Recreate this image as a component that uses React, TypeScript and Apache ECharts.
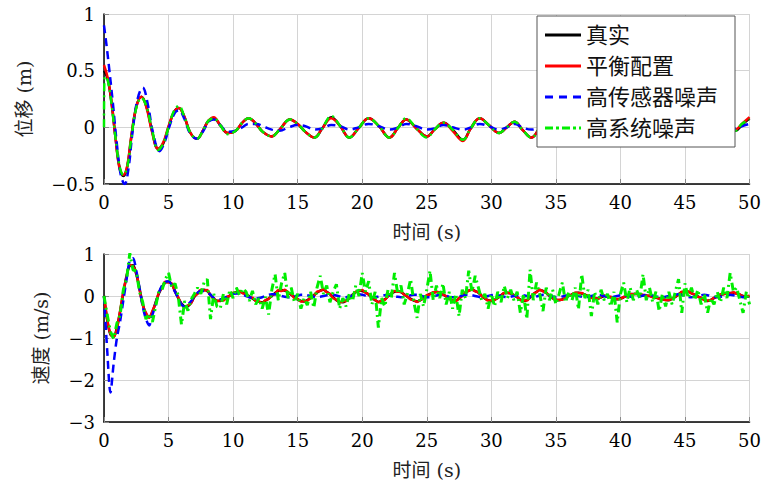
import React, { useEffect, useRef } from "react";
import * as echarts from "echarts";

// ---------- labels ----------
const seriesNames = ["真实", "平衡配置", "高传感器噪声", "高系统噪声"];
const xTicks = [0, 5, 10, 15, 20, 25, 30, 35, 40, 45, 50];
const dispTicks = [-0.5, 0, 0.5, 1];
const velTicks = [-3, -2, -1, 0, 1];
const xName = "时间 (s)";
const dispName = "位移 (m)";
const velName = "速度 (m/s)";

// ---------- displacement [t, x] ----------
const trueDisp = [
  [0, 0.5], [0.3, 0.42], [0.6, 0.2], [0.9, -0.1], [1.2, -0.35], [1.5, -0.43], [1.8, -0.35], [2.1, -0.1],
  [2.5, 0.18], [2.9, 0.27], [3.3, 0.18], [3.7, -0.02], [4.2, -0.19], [4.6, -0.14], [5.0, 0.0], [5.4, 0.13],
  [5.8, 0.17], [6.2, 0.1], [6.7, -0.05], [7.2, -0.1], [7.7, -0.02], [8.1, 0.06], [8.5, 0.08], [9.0, 0.02],
  [9.6, -0.05], [10.2, -0.03], [10.7, 0.04], [11.2, 0.08], [11.7, 0.04], [12.3, -0.04], [13.0, -0.08],
  [13.6, -0.02], [14.4, 0.07], [15.0, 0.03], [15.6, -0.04], [16.3, -0.09], [16.9, -0.01], [17.6, 0.09],
  [18.3, 0.01], [19.0, -0.09], [19.7, -0.01], [20.5, 0.08], [21.3, 0.01], [22.1, -0.09], [22.8, 0.0],
  [23.4, 0.07], [24.2, -0.01], [25.0, -0.08], [25.6, -0.02], [26.3, 0.04], [27.0, -0.02], [27.8, -0.11],
  [28.4, -0.01], [29.1, 0.08], [29.8, 0.02], [30.6, -0.05], [31.2, 0.0], [31.8, 0.05], [32.4, -0.02],
  [33.1, -0.09], [33.8, 0.0], [34.6, 0.07], [35.4, 0.0], [36.2, -0.07], [37.0, 0.0], [37.8, 0.06],
  [38.6, -0.01], [39.4, -0.07], [40.2, 0.0], [41.0, 0.06], [41.8, -0.01], [42.6, -0.07], [43.4, 0.0],
  [44.2, 0.06], [45.0, 0.0], [45.8, -0.06], [46.6, 0.0], [47.4, 0.05], [48.2, -0.01], [48.9, -0.03],
  [49.4, 0.02], [50, 0.08],
];
const balancedDisp = [
  [0, 0.55], [0.3, 0.43], [0.6, 0.21], [0.9, -0.1], [1.2, -0.36], [1.5, -0.42], [1.8, -0.34], [2.1, -0.09],
  [2.5, 0.18], [2.9, 0.27], [3.3, 0.17], [3.7, -0.03], [4.2, -0.19], [4.6, -0.13], [5.0, 0.01], [5.4, 0.13],
  [5.8, 0.17], [6.2, 0.1], [6.7, -0.05], [7.2, -0.1], [7.7, -0.02], [8.1, 0.06], [8.5, 0.09], [9.0, 0.02],
  [9.6, -0.05], [10.2, -0.03], [10.7, 0.04], [11.2, 0.08], [11.7, 0.04], [12.3, -0.04], [13.0, -0.08],
  [13.6, -0.02], [14.4, 0.07], [15.0, 0.03], [15.6, -0.04], [16.3, -0.09], [16.9, -0.01], [17.6, 0.08],
  [18.3, 0.01], [19.0, -0.09], [19.7, -0.01], [20.5, 0.08], [21.3, 0.01], [22.1, -0.09], [22.8, 0.0],
  [23.4, 0.07], [24.2, -0.01], [25.0, -0.08], [25.6, -0.02], [26.3, 0.04], [27.0, -0.03], [27.8, -0.12],
  [28.4, -0.01], [29.1, 0.08], [29.8, 0.02], [30.6, -0.05], [31.2, 0.0], [31.8, 0.05], [32.4, -0.02],
  [33.1, -0.09], [33.8, 0.0], [34.6, 0.07], [35.4, 0.0], [36.2, -0.07], [37.0, 0.0], [37.8, 0.06],
  [38.6, -0.01], [39.4, -0.07], [40.2, 0.0], [41.0, 0.06], [41.8, -0.01], [42.6, -0.07], [43.4, 0.0],
  [44.2, 0.06], [45.0, 0.0], [45.8, -0.06], [46.6, 0.0], [47.4, 0.05], [48.2, -0.01], [48.9, -0.02],
  [49.4, 0.03], [50, 0.09],
];
const sensorDisp = [
  [0, 0.9], [0.2, 0.72], [0.4, 0.52], [0.7, 0.2], [1.0, -0.15], [1.3, -0.42], [1.6, -0.5], [1.9, -0.36],
  [2.2, -0.05], [2.6, 0.25], [3.0, 0.35], [3.4, 0.2], [3.8, -0.05], [4.3, -0.21], [4.7, -0.13], [5.1, 0.02],
  [5.5, 0.13], [5.8, 0.15], [6.2, 0.08], [6.7, -0.06], [7.2, -0.1], [7.7, -0.03], [8.1, 0.05], [8.5, 0.07],
  [9.0, 0.02], [9.6, -0.04], [10.2, -0.03], [10.7, 0.0], [11.2, 0.03], [11.8, 0.03], [12.3, 0.01],
  [13.0, -0.02], [13.6, -0.03], [14.3, 0.0], [15.0, 0.02], [15.6, 0.01], [16.3, -0.02], [16.9, -0.01],
  [17.6, 0.02], [18.3, 0.01], [19.0, -0.02], [19.7, 0.0], [20.5, 0.03], [21.3, 0.01], [22.1, -0.02],
  [22.8, 0.0], [23.4, 0.03], [24.2, 0.01], [25.0, -0.02], [25.6, -0.01], [26.3, 0.02], [27.0, 0.0],
  [27.8, -0.02], [28.4, 0.0], [29.1, 0.03], [29.8, 0.01], [30.6, -0.02], [31.2, 0.0], [31.8, 0.03],
  [32.4, 0.0], [33.1, -0.02], [33.8, 0.0], [34.6, 0.03], [35.4, 0.0], [36.2, -0.02], [37.0, 0.0],
  [37.8, 0.02], [38.6, 0.0], [39.4, -0.02], [40.2, 0.0], [41.0, 0.02], [41.8, 0.0], [42.6, -0.02],
  [43.4, 0.0], [44.2, 0.02], [45.0, 0.0], [45.8, -0.02], [46.6, 0.0], [47.4, 0.02], [48.2, 0.0],
  [48.9, -0.01], [49.4, 0.01], [50, 0.03],
];
const systemDisp = [
  [0, 0.0], [0.05, 0.45], [0.3, 0.41], [0.6, 0.19], [0.9, -0.1], [1.2, -0.34], [1.5, -0.42], [1.8, -0.35],
  [2.1, -0.11], [2.5, 0.17], [2.9, 0.26], [3.3, 0.18], [3.7, -0.01], [4.2, -0.2], [4.6, -0.14], [5.0, 0.0],
  [5.4, 0.14], [5.8, 0.19], [6.2, 0.1], [6.7, -0.05], [7.2, -0.1], [7.7, -0.02], [8.1, 0.06], [8.5, 0.08],
  [9.0, 0.02], [9.6, -0.06], [10.2, -0.03], [10.7, 0.04], [11.2, 0.08], [11.7, 0.04], [12.3, -0.04],
  [13.0, -0.08], [13.6, -0.02], [14.4, 0.07], [15.0, 0.03], [15.6, -0.04], [16.3, -0.09], [16.9, -0.01],
  [17.6, 0.1], [18.3, 0.01], [19.0, -0.09], [19.7, -0.01], [20.5, 0.08], [21.3, 0.01], [22.1, -0.09],
  [22.8, 0.0], [23.4, 0.08], [24.2, -0.01], [25.0, -0.09], [25.6, -0.02], [26.3, 0.04], [27.0, -0.02],
  [27.8, -0.11], [28.4, -0.01], [29.1, 0.08], [29.8, 0.02], [30.6, -0.05], [31.2, 0.0], [31.8, 0.05],
  [32.4, -0.02], [33.1, -0.09], [33.8, 0.0], [34.6, 0.07], [35.4, 0.0], [36.2, -0.07], [37.0, 0.0],
  [37.8, 0.06], [38.6, -0.01], [39.4, -0.07], [40.2, 0.0], [41.0, 0.06], [41.8, -0.01], [42.6, -0.07],
  [43.4, 0.0], [44.2, 0.06], [45.0, 0.0], [45.8, -0.06], [46.6, 0.0], [47.4, 0.05], [48.2, -0.01],
  [48.9, -0.03], [49.4, 0.03], [50, 0.07],
];

// ---------- velocity, sampled every 0.25 s from t = 0 to 50 ----------
const VEL_STEP = 0.25;
const trueVel = [
  0, -0.58, -0.92, -0.97, -0.75, -0.37, 0.08, 0.48, 0.72, 0.73, 0.52, 0.18, -0.2, -0.43, -0.5, -0.38,
  -0.15, 0.06, 0.22, 0.32, 0.34, 0.28, 0.12, -0.05, -0.18, -0.25, -0.24, -0.16, -0.02, 0.07, 0.13, 0.15,
  0.12, 0.03, -0.07, -0.11, -0.12, -0.09, -0.04, 0.01, 0.06, 0.09, 0.1, 0.08, 0.04, -0.01, -0.06, -0.11,
  -0.14, -0.15, -0.11, -0.06, 0.0, 0.07, 0.12, 0.14, 0.13, 0.09, 0.03, -0.03, -0.08, -0.12, -0.13, -0.1,
  -0.05, 0.02, 0.08, 0.13, 0.15, 0.1, 0.04, -0.03, -0.1, -0.14, -0.15, -0.11, -0.05, 0.03, 0.09, 0.13,
  0.12, 0.09, 0.03, -0.04, -0.1, -0.14, -0.12, -0.08, -0.01, 0.06, 0.1, 0.12, 0.09, 0.04, -0.02, -0.07,
  -0.11, -0.13, -0.1, -0.05, 0.0, 0.05, 0.08, 0.1, 0.08, 0.04, -0.01, -0.06, -0.11, -0.11, -0.06, 0.01,
  0.08, 0.13, 0.15, 0.12, 0.08, 0.01, -0.06, -0.1, -0.12, -0.09, -0.05, 0.02, 0.07, 0.08, 0.06, 0.02,
  -0.03, -0.09, -0.12, -0.1, -0.04, 0.04, 0.1, 0.14, 0.12, 0.07, 0.01, -0.05, -0.09, -0.1, -0.08, -0.04,
  0.0, 0.04, 0.07, 0.08, 0.06, 0.03, -0.01, -0.04, -0.06, -0.06, -0.03, 0.0, -0.01, -0.03, -0.06, -0.08,
  -0.06, -0.03, 0.01, 0.04, 0.05, 0.05, 0.04, 0.02, 0.01, 0.0, -0.02, -0.04, -0.06, -0.08, -0.09, -0.1,
  -0.06, -0.02, 0.04, 0.09, 0.1, 0.1, 0.07, 0.03, -0.01, -0.05, -0.09, -0.12, -0.09, -0.05, -0.01, 0.03,
  0.05, 0.06, 0.07, 0.08, 0.06, 0.03, 0.0, -0.02, 0.0,
];
const balancedVel = [
  0, -0.55, -0.9, -0.98, -0.78, -0.35, 0.1, 0.46, 0.74, 0.7, 0.55, 0.16, -0.22, -0.4, -0.52, -0.36,
  -0.17, 0.08, 0.2, 0.34, 0.32, 0.3, 0.1, -0.03, -0.2, -0.27, -0.22, -0.17, 0.0, 0.05, 0.15, 0.13,
  0.14, 0.01, -0.05, -0.13, -0.1, -0.11, -0.02, 0.0, 0.08, 0.07, 0.12, 0.06, 0.05, -0.03, -0.04, -0.12,
  -0.13, -0.17, -0.1, -0.07, 0.02, 0.05, 0.14, 0.12, 0.15, 0.08, 0.04, -0.05, -0.07, -0.13, -0.12, -0.11,
  -0.04, 0.0, 0.1, 0.12, 0.16, 0.09, 0.05, -0.05, -0.09, -0.15, -0.13, -0.12, -0.04, 0.02, 0.1, 0.12,
  0.14, 0.08, 0.04, -0.05, -0.09, -0.15, -0.11, -0.09, 0.0, 0.05, 0.12, 0.1, 0.1, 0.03, -0.01, -0.08,
  -0.1, -0.14, -0.09, -0.06, 0.02, 0.04, 0.09, 0.09, 0.09, 0.03, 0.0, -0.07, -0.1, -0.12, -0.05, 0.0,
  0.09, 0.12, 0.16, 0.11, 0.09, 0.0, -0.05, -0.11, -0.11, -0.1, -0.04, 0.01, 0.08, 0.07, 0.07, 0.01,
  -0.02, -0.1, -0.11, -0.11, -0.03, 0.05, 0.09, 0.15, 0.11, 0.08, 0.0, -0.04, -0.1, -0.09, -0.09, -0.03,
  0.01, 0.03, 0.08, 0.07, 0.07, 0.02, 0.0, -0.05, -0.05, -0.07, -0.02, 0.01, -0.02, -0.02, -0.07, -0.07,
  -0.07, -0.02, 0.0, 0.05, 0.04, 0.06, 0.03, 0.03, 0.0, 0.01, -0.03, -0.03, -0.07, -0.07, -0.1, -0.09,
  -0.07, -0.01, 0.03, 0.1, 0.09, 0.11, 0.06, 0.04, -0.02, -0.04, -0.1, -0.11, -0.1, -0.04, -0.02, 0.04,
  0.04, 0.07, 0.06, 0.09, 0.05, 0.04, -0.01, -0.01, 0.01,
];
const sensorVel = [
  0, -1.3, -2.3, -1.6, -1.0, -0.6, -0.1, 0.4, 0.85, 0.9, 0.6, 0.2, -0.25, -0.55, -0.7, -0.45,
  -0.2, 0.08, 0.25, 0.33, 0.35, 0.25, 0.1, -0.05, -0.2, -0.25, -0.2, -0.12, 0.0, 0.08, 0.12, 0.12,
  0.08, 0.03, -0.05, -0.08, -0.08, -0.05, -0.02, 0.02, 0.05, 0.06, 0.05, 0.03, 0.0, -0.03, -0.05, -0.06,
  -0.05, -0.03, 0.0, 0.03, 0.04, 0.04, 0.02, 0.0, -0.02, -0.03, -0.03, -0.01, 0.01, 0.03, 0.03, 0.02,
  0.0, -0.02, -0.03, -0.02, 0.0, 0.02, 0.03, 0.03, 0.01, -0.01, -0.03, -0.03, -0.01, 0.01, 0.03, 0.04,
  0.03, 0.01, -0.02, -0.03, -0.03, -0.01, 0.01, 0.02, 0.03, 0.02, 0.0, -0.02, -0.03, -0.02, 0.0, 0.02,
  0.03, 0.03, 0.01, -0.01, -0.03, -0.03, -0.01, 0.01, 0.03, 0.03, 0.01, -0.02, -0.03, -0.03, -0.01, 0.01,
  0.03, 0.03, 0.02, 0.0, -0.02, -0.03, -0.02, 0.0, 0.02, 0.03, 0.02, 0.0, -0.02, -0.03, -0.02, 0.0,
  0.02, 0.03, 0.02, 0.0, -0.02, -0.03, -0.01, 0.01, 0.03, 0.03, 0.01, -0.01, -0.03, -0.03, -0.01, 0.01,
  0.02, 0.03, 0.02, 0.0, -0.02, -0.03, -0.02, 0.0, 0.02, 0.03, 0.02, 0.0, -0.02, -0.03, -0.02, 0.0,
  0.02, 0.03, 0.01, -0.01, -0.03, -0.03, -0.01, 0.01, 0.03, 0.03, 0.01, -0.01, -0.02, -0.03, -0.02, 0.0,
  0.02, 0.03, 0.04, 0.02, 0.0, -0.02, -0.03, -0.02, 0.0, 0.02, 0.03, 0.02, 0.0, -0.02, -0.03, -0.02,
  0.0, 0.02, 0.03, 0.02, 0.0, -0.02, -0.03, -0.02, 0.0,
];
const systemVel = [
  0, -0.45, -0.85, -1.02, -0.65, -0.45, 0.15, 0.4, 1.02, 0.62, 0.6, 0.1, -0.15, -0.55, -0.42, -0.62,
  -0.25, 0.12, 0.15, 0.4, 0.55, 0.2, 0.3, 0.0, -0.68, -0.12, -0.35, -0.08, 0.05, 0.2, 0.05, 0.32,
  0.4, -0.55, 0.05, -0.25, -0.3, 0.05, -0.2, 0.15, -0.05, 0.2, 0.02, 0.18, 0.1, -0.12, 0.12, -0.2,
  -0.05, -0.3, -0.02, -0.44, 0.15, 0.52, -0.1, 0.3, 0.55, -0.05, 0.2, -0.15, 0.05, -0.3, -0.05, -0.22,
  0.1, -0.28, 0.2, 0.48, 0.05, 0.25, -0.15, 0.1, 0.28, -0.3, -0.05, -0.25, 0.05, -0.12, 0.25, 0.0,
  0.55, 0.1, 0.35, -0.2, 0.1, -0.75, -0.05, -0.25, 0.15, -0.05, 0.55, 0.05, 0.25, -0.2, 0.05, 0.4,
  -0.15, -0.52, 0.05, -0.25, 0.15, 0.6, -0.1, 0.25, -0.05, 0.3, -0.2, 0.1, -0.3, 0.05, -0.48, 0.15,
  -0.05, 0.6, 0.1, 0.48, 0.2, -0.1, 0.05, -0.3, 0.05, -0.25, 0.1, -0.15, 0.24, -0.05, 0.15, -0.1,
  0.1, -0.4, 0.05, -0.55, 0.63, -0.1, 0.32, 0.05, -0.36, 0.2, -0.1, 0.15, -0.2, 0.05, 0.32, -0.15,
  0.1, -0.1, 0.2, -0.32, 0.52, -0.05, 0.15, -0.48, 0.1, -0.2, 0.15, -0.1, 0.05, -0.25, 0.1, -0.63,
  0.05, 0.32, -0.15, 0.2, -0.1, 0.15, -0.05, 0.52, -0.1, 0.2, -0.15, 0.1, -0.36, 0.05, -0.25, 0.1,
  -0.2, 0.1, 0.4, -0.4, 0.3, -0.05, 0.2, -0.1, 0.15, -0.2, 0.05, -0.4, -0.05, -0.2, 0.1, -0.15,
  0.2, -0.05, 0.55, 0.1, 0.2, -0.1, -0.4, 0.1, -0.2,
];

const SERIF = "DejaVu Serif";
const MIXED = "DejaVu Serif, Noto Sans CJK SC";
const fmt = (v: number) => (v < 0 ? "\u2212" + String(-v) : String(v));

const colors = ["#000000", "#ff0000", "#0000ff", "#00ee00"];
const lineTypes: any[] = ["solid", "solid", [8, 5], [8, 4, 2, 4]];
const legendIcons = [
  "path://M0,0h36v3h-36z",
  "path://M0,0h36v3h-36z",
  "path://M0,0h8v3h-8zM14,0h8v3h-8zM28,0h8v3h-8z",
  "path://M0,0h8v3h-8zM11,0h3v3h-3zM17,0h8v3h-8zM28,0h3v3h-3zM34,0h2v3h-2z",
];

export default function App() {
  const ref = useRef<HTMLDivElement>(null);
  useEffect(() => {
    if (!ref.current) return;
    const chart = echarts.init(ref.current, null, { renderer: "svg" });
    const velPairs = (arr: number[]) => arr.map((v, i) => [i * VEL_STEP, v]);
    const dispData = [trueDisp, balancedDisp, sensorDisp, systemDisp];
    const velData = [trueVel, balancedVel, sensorVel, systemVel].map(velPairs);

    const xAxisBase = (gridIndex: number) => ({
      type: "value",
      gridIndex,
      min: xTicks[0],
      max: xTicks[xTicks.length - 1],
      interval: 5,
      name: xName,
      nameLocation: "middle",
      nameGap: 38,
      nameTextStyle: { fontFamily: MIXED, fontSize: 19, color: "#222" },
      axisLine: { onZero: false, lineStyle: { color: "#000", width: 1.5 } },
      axisTick: { show: true, inside: true, length: 5, lineStyle: { color: "#888" } },
      axisLabel: { fontFamily: SERIF, fontSize: 18, color: "#000", margin: 9, formatter: fmt },
      splitLine: { show: true, lineStyle: { color: "#d4d4d4", width: 1 } },
    });
    const yAxisBase = (gridIndex: number, ticks: number[], name: string, gap: number) => ({
      type: "value",
      gridIndex,
      min: ticks[0],
      max: ticks[ticks.length - 1],
      interval: ticks[1] - ticks[0],
      name,
      nameLocation: "middle",
      nameGap: gap,
      nameTextStyle: { fontFamily: MIXED, fontSize: 19, color: "#222" },
      axisLine: { onZero: false, lineStyle: { color: "#000", width: 1.5 } },
      axisTick: { show: true, inside: true, length: 5, lineStyle: { color: "#888" } },
      axisLabel: { fontFamily: SERIF, fontSize: 18, color: "#000", margin: 9, formatter: fmt },
      splitLine: { show: true, lineStyle: { color: "#d4d4d4", width: 1 } },
    });

    const series: any[] = [];
    seriesNames.forEach((name, k) => {
      series.push({
        name,
        type: "line",
        xAxisIndex: 0,
        yAxisIndex: 0,
        data: dispData[k],
        symbol: "none",
        smooth: 0.4,
        lineStyle: { color: colors[k], width: 2.5, type: lineTypes[k] },
        itemStyle: { color: colors[k] },
        z: 2 + k,
      });
    });
    seriesNames.forEach((name, k) => {
      series.push({
        name,
        type: "line",
        xAxisIndex: 1,
        yAxisIndex: 1,
        data: velData[k],
        symbol: "none",
        smooth: k === 3 ? false : 0.3,
        lineStyle: { color: colors[k], width: k === 3 ? 3 : 2.5, type: lineTypes[k] },
        itemStyle: { color: colors[k] },
        z: 2 + k,
      });
    });

    chart.setOption({
      animation: false,
      backgroundColor: "#fff",
      grid: [
        { left: 104, right: 14, top: 14, height: 170 },
        { left: 104, right: 14, top: 254, height: 168 },
      ],
      xAxis: [xAxisBase(0), xAxisBase(1)],
      yAxis: [
        yAxisBase(0, dispTicks, dispName, 71),
        yAxisBase(1, velTicks, velName, 54),
      ],
      legend: {
        data: seriesNames.map((name, k) => ({ name, icon: legendIcons[k] })),
        orient: "vertical",
        left: 537,
        top: 16,
        padding: [8, 17, 8, 8],
        itemGap: 9,
        itemWidth: 36,
        itemHeight: 3,
        symbolKeepAspect: false,
        backgroundColor: "#fff",
        borderColor: "#555",
        borderWidth: 1,
        borderRadius: 0,
        textStyle: { fontFamily: MIXED, fontSize: 22, color: "#111", lineHeight: 22 },
        z: 10,
      },
      series,
    });
    return () => chart.dispose();
  }, []);
  return (
    <div
      ref={ref}
      style={{ position: "fixed", left: 0, top: 0, width: 764, height: 484, background: "#fff" }}
    />
  );
}
